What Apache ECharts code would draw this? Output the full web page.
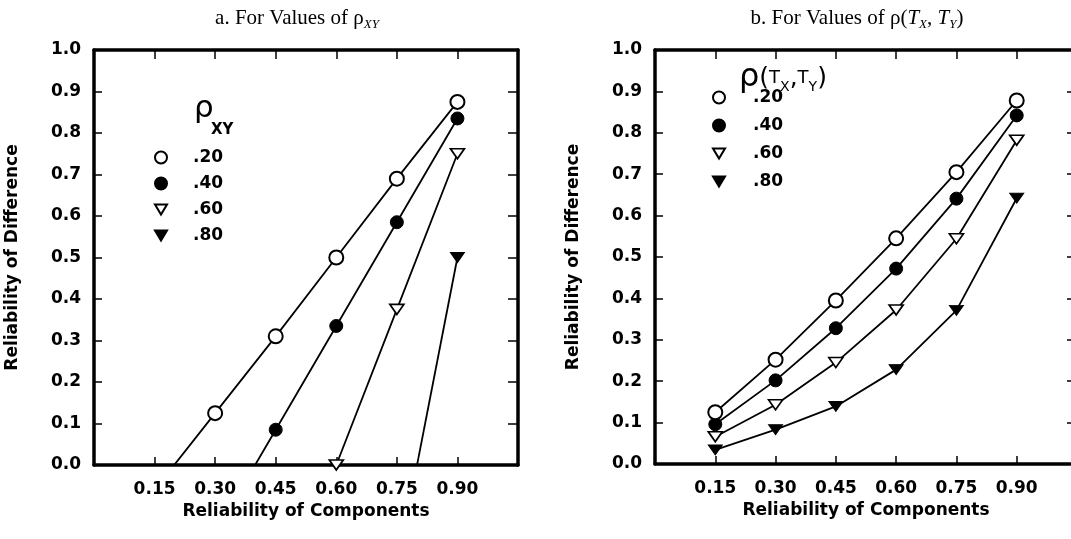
<!DOCTYPE html>
<html>
<head>
<meta charset="utf-8">
<script src="https://cdn.jsdelivr.net/npm/echarts/dist/echarts.min.js"></script>
<style>
html,body{margin:0;padding:0;background:#fff;}
#chart{width:1071px;height:539px;}
</style>
</head>
<body>
<div id="chart"></div>
<script>
// ---- data ----
var reliabilities = [0.15, 0.30, 0.45, 0.60, 0.75, 0.90];
var seriesNames = ['.20', '.40', '.60', '.80'];
var yTickValues = [0.0, 0.1, 0.2, 0.3, 0.4, 0.5, 0.6, 0.7, 0.8, 0.9, 1.0];
var xTickLabels = ['0.15', '0.30', '0.45', '0.60', '0.75', '0.90'];

// panel a: for values of rho_XY (null = not plotted; negative values fall below the axis and are clipped)
var a20 = [-0.06, 0.125, 0.31, 0.50, 0.69, 0.875];
var a40 = [null, -0.165, 0.085, 0.335, 0.585, 0.835];
var a60 = [null, null, null, 0.00, 0.375, 0.75];
var a80 = [null, null, null, null, -0.25, 0.50];

// panel b: for values of rho(Tx,Ty)
var b20 = [0.125, 0.252, 0.395, 0.545, 0.705, 0.878];
var b40 = [0.096, 0.202, 0.328, 0.472, 0.641, 0.842];
var b60 = [0.066, 0.143, 0.245, 0.372, 0.544, 0.782];
var b80 = [0.034, 0.083, 0.139, 0.228, 0.371, 0.642];

// ---- styling ----
var TRI = 'path://M0,0L12,0L6,10Z';
var markerStyles = [
  {symbol: 'circle', size: 14, item: {color: '#fff', borderColor: '#000', borderWidth: 2}},
  {symbol: 'circle', size: 13, item: {color: '#000', borderColor: '#000', borderWidth: 1}},
  {symbol: TRI, size: [14, 12], item: {color: '#fff', borderColor: '#000', borderWidth: 1.7}},
  {symbol: TRI, size: [14, 12], item: {color: '#000', borderColor: '#000', borderWidth: 1}}
];
var SANS = 'DejaVu Sans';
var SERIF = 'Liberation Serif';

function pairs(ys) {
  var out = [];
  for (var i = 0; i < reliabilities.length; i++) {
    if (ys[i] !== null) out.push([reliabilities[i], ys[i]]);
  }
  return out;
}

function makeSeries(ys, idx, panel) {
  var m = markerStyles[idx];
  return {
    type: 'line',
    name: seriesNames[idx],
    xAxisIndex: panel * 2,
    yAxisIndex: panel * 2,
    data: pairs(ys),
    clip: true,
    symbol: m.symbol,
    symbolSize: m.size,
    symbolKeepAspect: true,
    showAllSymbol: true,
    itemStyle: m.item,
    lineStyle: {color: '#000', width: 1.8},
    emphasis: {disabled: true},
    z: 3 + (3 - idx)
  };
}

function xAxisPair(grid) {
  var base = {
    type: 'value', gridIndex: grid, min: 0, max: 1.05, interval: 0.15,
    splitLine: {show: false},
    axisLine: {show: true, onZero: false, lineStyle: {color: '#000', width: 3.5}}
  };
  var bottom = Object.assign({}, base, {
    position: 'bottom',
    axisTick: {show: true, inside: true, length: 8, lineStyle: {color: '#000', width: 1.5}},
    axisLabel: {
      show: true, margin: 16, color: '#000',
      fontFamily: SANS, fontWeight: 'bold', fontSize: 17,
      formatter: function (v) {
        for (var i = 0; i < reliabilities.length; i++) {
          if (Math.abs(v - reliabilities[i]) < 1e-6) return xTickLabels[i];
        }
        return '';
      }
    },
    name: 'Reliability of Components',
    nameLocation: 'middle',
    nameGap: 37,
    nameTextStyle: {color: '#000', fontFamily: SANS, fontWeight: 'bold', fontSize: 17}
  });
  var top = Object.assign({}, base, {
    position: 'top',
    axisTick: {show: true, inside: true, length: 9, lineStyle: {color: '#000', width: 1.5}},
    axisLabel: {show: false}
  });
  return [bottom, top];
}

function yAxisPair(grid) {
  var base = {
    type: 'value', gridIndex: grid, min: 0, max: 1.0, interval: 0.1,
    splitLine: {show: false},
    axisLine: {show: true, onZero: false, lineStyle: {color: '#000', width: 3.5}}
  };
  var left = Object.assign({}, base, {
    position: 'left',
    axisTick: {show: true, inside: true, length: 8, lineStyle: {color: '#000', width: 1.5}},
    axisLabel: {
      show: true, margin: 13, color: '#000',
      fontFamily: SANS, fontWeight: 'bold', fontSize: 17,
      formatter: function (v) {
        for (var i = 0; i < yTickValues.length; i++) {
          if (Math.abs(v - yTickValues[i]) < 1e-6) return yTickValues[i].toFixed(1);
        }
        return '';
      }
    },
    name: 'Reliability of Difference',
    nameLocation: 'middle',
    nameRotate: 90,
    nameGap: 73,
    nameTextStyle: {color: '#000', fontFamily: SANS, fontWeight: 'bold', fontSize: 17}
  });
  var right = Object.assign({}, base, {
    position: 'right',
    axisTick: {show: true, inside: true, length: 10, lineStyle: {color: '#000', width: 1.5}},
    axisLabel: {show: false}
  });
  return [left, right];
}

function legendFor(left, top, gap, pad) {
  return {
    orient: 'vertical', left: left, top: top, padding: 0,
    itemWidth: 12, itemHeight: 12, itemGap: gap,
    selectedMode: false,
    data: [
      {name: '.20', icon: 'circle'},
      {name: '.40', icon: 'circle'},
      {name: '.60', icon: TRI},
      {name: '.80', icon: TRI}
    ],
    textStyle: {color: '#000', fontFamily: SANS, fontWeight: 'bold', fontSize: 17, padding: [0, 0, 0, pad]}
  };
}

var xa = xAxisPair(0), xb = xAxisPair(1);
var ya = yAxisPair(0), yb = yAxisPair(1);

var option = {
  animation: false,
  backgroundColor: '#fff',
  grid: [
    {left: 94, top: 50, right: 553, bottom: 74, containLabel: false, outerBoundsMode: 'none'},
    {left: 655, top: 50, right: -6, bottom: 75, containLabel: false, outerBoundsMode: 'none'}
  ],
  xAxis: [xa[0], xa[1], xb[0], xb[1]],
  yAxis: [ya[0], ya[1], yb[0], yb[1]],
  legend: [legendFor(154, 149, 9, 21), legendFor(712, 89, 11, 23)],
  graphic: [
    {
      type: 'text', x: 297, y: 18, silent: true,
      style: {
        text: '{m|a. For Values of ρ}{s|XY}',
        align: 'center', verticalAlign: 'middle', textAlign: 'center', textVerticalAlign: 'middle',
        rich: {
          m: {fontFamily: SERIF, fontSize: 21, lineHeight: 26, color: '#000'},
          s: {fontFamily: SERIF, fontSize: 13, fontStyle: 'italic', lineHeight: 15, verticalAlign: 'bottom', color: '#000'}
        }
      }
    },
    {
      type: 'text', x: 857, y: 18, silent: true,
      style: {
        text: '{m|b. For Values of ρ(}{i|T}{s|X}{m|, }{i|T}{s|Y}{m|)}',
        align: 'center', verticalAlign: 'middle', textAlign: 'center', textVerticalAlign: 'middle',
        rich: {
          m: {fontFamily: SERIF, fontSize: 21, lineHeight: 26, color: '#000'},
          i: {fontFamily: SERIF, fontSize: 21, fontStyle: 'italic', lineHeight: 26, color: '#000'},
          s: {fontFamily: SERIF, fontSize: 13, fontStyle: 'italic', lineHeight: 15, verticalAlign: 'bottom', color: '#000'}
        }
      }
    },
    {
      type: 'text', x: 194, y: 109, silent: true,
      style: {text: 'ρ', font: '31px "DejaVu Sans"', fill: '#000', align: 'left', verticalAlign: 'middle', textAlign: 'left', textVerticalAlign: 'middle'}
    },
    {
      type: 'text', x: 211, y: 130, silent: true,
      style: {text: 'XY', font: 'bold 15px "DejaVu Sans"', fill: '#000', align: 'left', verticalAlign: 'middle', textAlign: 'left', textVerticalAlign: 'middle'}
    },
    {
      type: 'text', x: 739, y: 78, silent: true,
      style: {
        text: '{r|ρ}{p|(}{t|T}{s|X}{p|,}{t|T}{s|Y}{p|)}',
        align: 'left', verticalAlign: 'middle', textAlign: 'left', textVerticalAlign: 'middle',
        rich: {
          r: {fontFamily: SANS, fontSize: 32, lineHeight: 26, verticalAlign: 'top', color: '#000'},
          p: {fontFamily: SANS, fontSize: 25, lineHeight: 32, color: '#000'},
          t: {fontFamily: SANS, fontSize: 18, lineHeight: 32, color: '#000'},
          s: {fontFamily: SANS, fontSize: 14, lineHeight: 17, verticalAlign: 'bottom', color: '#000'}
        }
      }
    }
  ],
  series: [
    makeSeries(a20, 0, 0), makeSeries(a40, 1, 0), makeSeries(a60, 2, 0), makeSeries(a80, 3, 0),
    makeSeries(b20, 0, 1), makeSeries(b40, 1, 1), makeSeries(b60, 2, 1), makeSeries(b80, 3, 1)
  ]
};

var chart = echarts.init(document.getElementById('chart'), null, {renderer: 'canvas'});
chart.setOption(option);
</script>
</body>
</html>
